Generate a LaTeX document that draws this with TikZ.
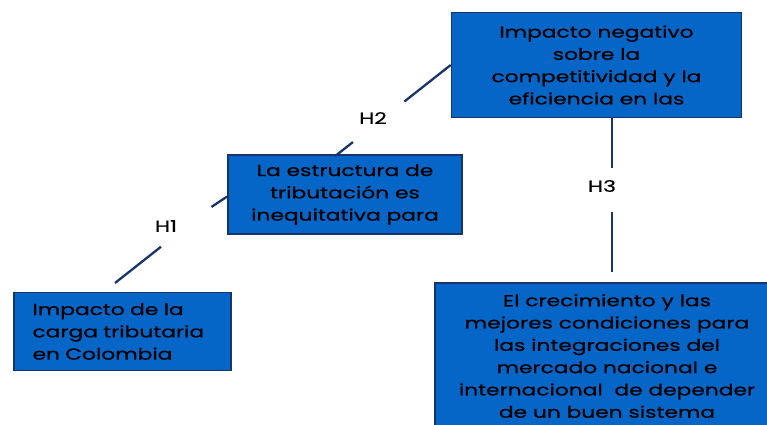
\documentclass[tikz,border=0pt]{standalone}
\usepackage{fontspec}
\setmainfont{Poppins}[FakeStretch=1.36, FakeBold=0.6]
\usepackage{xcolor}
\usetikzlibrary{calc}

\definecolor{boxblue}{RGB}{5,102,200}
\definecolor{navy}{RGB}{24,52,108}

\tikzset{
	idea/.style={draw=navy, line width=1.6pt, fill=boxblue, inner sep=0pt, align=center,
		font=\fontsize{16}{22.3}\selectfont},
	link/.style={line width=2.3pt, color=navy},
	hyp/.style={font=\fontsize{16}{18}\selectfont}
}

\begin{document}
\begin{tikzpicture}[x=1pt, y=-1pt]
	\useasboundingbox (0,0) rectangle (767,424);
	\clip (0,0) rectangle (767,424);
	%
	% boxes
	\node[idea, minimum width=217, minimum height=78, text width=180, align=left] (a) at (122.5,331.5) {Impacto de la\\carga tributaria\\en Colombia};
	\node[idea, minimum width=234, minimum height=79] (b) at (345,194.5) {La estructura de\\tributaci\'on es\\inequitativa para};
	\node[idea, minimum width=290, minimum height=105] (c) at (596.5,65) {Impacto negativo\\sobre la\\competitividad y la\\eficiencia en las};
	\node[idea, minimum width=344, minimum height=146] (d) at (607,356) {El crecimiento y las\\mejores condiciones para\\las integraciones del\\mercado nacional e\\internacional \ de depender\\de un buen sistema};
	%
	% H1
	\coordinate (h1) at (115,283);
	\draw[link] (h1) -- ($(h1)!0.41!(b.west)$);
	\draw[link] ($(h1)!0.86!(b.west)$) -- ($(b.west)+(0,2)$);
	\node[hyp] (l1) at (166,226) {H1};
	%
	% H2
	\coordinate (h2) at ($(b.north)+(-10,2)$);
	\draw[link] (h2) -- ($(h2)!0.155!(c.west)$);
	\draw[link] ($(h2)!0.6!(c.west)$) -- (c.west);
	\node[hyp] (l2) at (373,118) {H2};
	%
	% H3
	\coordinate (h3a) at (612,118);
	\coordinate (h3b) at (612,272);
	\draw[link] (h3a) -- ($(h3a)!0.325!(h3b)$);
	\draw[link] ($(h3a)!0.61!(h3b)$) -- (h3b);
	\node[hyp] (l3) at (602,186) {H3};
\end{tikzpicture}
\end{document}
